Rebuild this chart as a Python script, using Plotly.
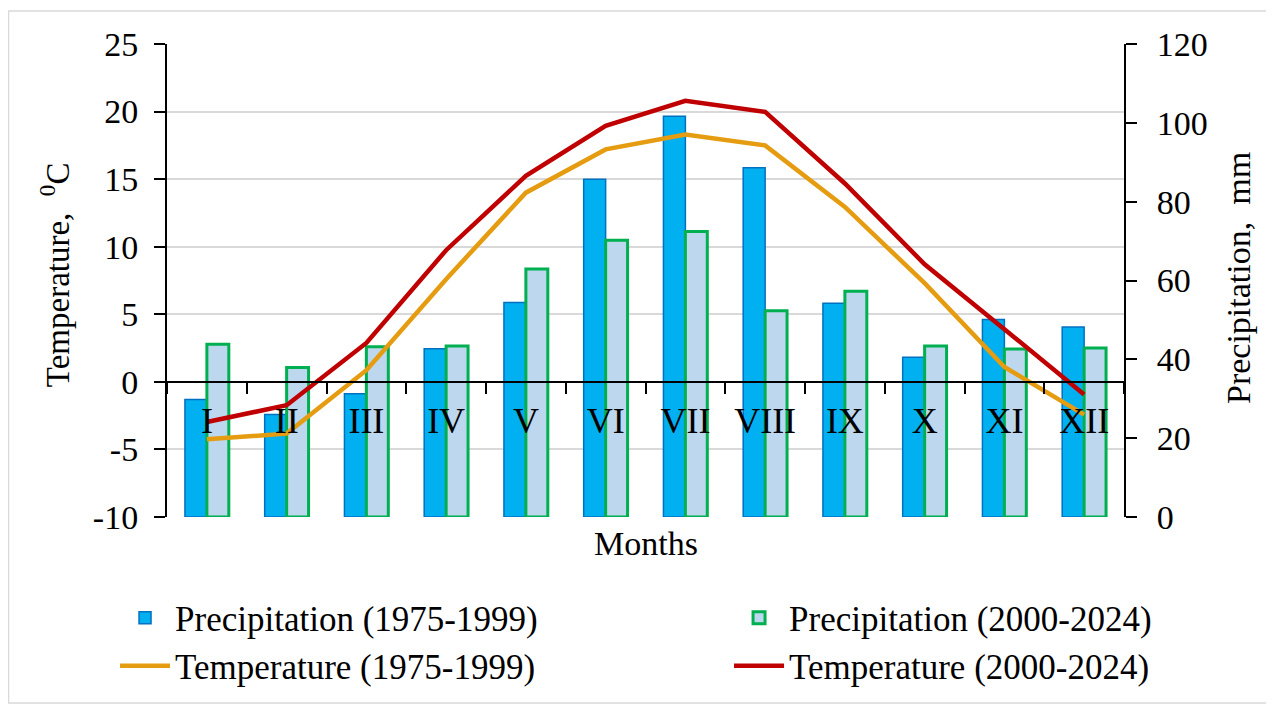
import plotly.graph_objects as go

months = ["I", "II", "III", "IV", "V", "VI", "VII", "VIII", "IX", "X", "XI", "XII"]
precip_1975_1999 = [29.8, 26.0, 31.3, 42.7, 54.4, 85.7, 101.7, 88.6, 54.2, 40.5, 50.1, 48.2]
precip_2000_2024 = [43.8, 37.9, 43.2, 43.4, 62.9, 70.2, 72.4, 52.3, 57.3, 43.4, 42.6, 42.9]
temp_1975_1999 = [-4.25, -3.83, 0.86, 7.6, 14.0, 17.2, 18.3, 17.5, 12.95, 7.3, 1.1, -2.42]
temp_2000_2024 = [-2.97, -1.73, 2.88, 9.74, 15.25, 18.95, 20.8, 19.98, 14.68, 8.7, 3.9, -0.94]

temp_ticks = [-10, -5, 0, 5, 10, 15, 20, 25]
temp_tick_text = ["-10", "-5", "0", "5", "10", "15", "20", "25"]
precip_ticks = [0, 20, 40, 60, 80, 100, 120]
precip_tick_text = ["0", "20", "40", "60", "80", "100", "120"]

temp_range = [-10, 25]
precip_range = [0, 120]
boundaries = [i - 0.5 for i in range(len(months) + 1)]

FONT = "Liberation Serif"
TICK = 34
LEG = 35

fig = go.Figure()
fig.add_trace(go.Bar(
    x=months, y=precip_1975_1999, name="Precipitation (1975-1999)",
    marker=dict(color="#00B0F0", line=dict(color="#0070C0", width=1.5)),
    xaxis="x", yaxis="y", legend="legend"))
fig.add_trace(go.Bar(
    x=months, y=precip_2000_2024, name="Precipitation (2000-2024)",
    marker=dict(color="#BDD7EE", line=dict(color="#00B050", width=3)),
    xaxis="x", yaxis="y", legend="legend2"))
fig.add_trace(go.Scatter(
    x=months, y=temp_1975_1999, name="Temperature (1975-1999)", mode="lines",
    line=dict(color="#E59C10", width=4.5), xaxis="x", yaxis="y2", legend="legend3"))
fig.add_trace(go.Scatter(
    x=months, y=temp_2000_2024, name="Temperature (2000-2024)", mode="lines",
    line=dict(color="#C00000", width=4.5), xaxis="x", yaxis="y2", legend="legend4"))

zero_pos = (0 - temp_range[0]) / (temp_range[1] - temp_range[0])


def leg(x, y):
    return dict(x=x, xanchor="left", xref="paper", y=y, yanchor="middle", yref="container",
                orientation="v", font=dict(family=FONT, size=LEG), itemwidth=50,
                bgcolor="rgba(0,0,0,0)", borderwidth=0)


fig.update_layout(
    width=1266, height=698,
    margin=dict(l=159, r=150, t=36, b=189, autoexpand=False),
    paper_bgcolor="white", plot_bgcolor="white",
    font=dict(family=FONT, size=TICK, color="black"),
    barmode="group", bargap=0.45, bargroupgap=0,
    showlegend=True,
    legend=leg(-0.0543, 0.1261),
    legend2=leg(0.5873, 0.1261),
    legend3=leg(-0.0543, 0.0573),
    legend4=leg(0.5873, 0.0573),
    xaxis=dict(type="category", categoryarray=months, categoryorder="array",
               range=[-0.5, 11.5], anchor="free", position=zero_pos,
               showline=True, linecolor="black", linewidth=2,
               ticks="outside", tickson="boundaries", ticklen=11, tickwidth=2,
               tickcolor="black", showgrid=False, zeroline=False,
               tickfont=dict(family=FONT, size=36), ticklabelstandoff=7),
    xaxis2=dict(overlaying="x", anchor="free", position=zero_pos,
                range=[-0.5, 11.5], tickmode="array", tickvals=boundaries,
                ticks="inside", ticklen=11, tickwidth=2, tickcolor="black",
                showticklabels=False, showline=False, showgrid=False, zeroline=False),
    yaxis=dict(range=precip_range, tickmode="array", tickvals=precip_ticks,
               ticktext=precip_tick_text, side="right", anchor="x",
               showline=True, linecolor="black", linewidth=2,
               ticks="outside", ticklen=11, tickwidth=2, tickcolor="black",
               showgrid=False, zeroline=False, ticklabelstandoff=13,
               tickfont=dict(family=FONT, size=TICK)),
    yaxis2=dict(range=temp_range, tickmode="array", tickvals=temp_ticks,
                ticktext=temp_tick_text, side="left", overlaying="y", anchor="x",
                showline=True, linecolor="black", linewidth=2,
                ticks="outside", ticklen=11, tickwidth=2, tickcolor="black",
                showgrid=True, gridcolor="#D9D9D9", gridwidth=1.5, zeroline=False,
                ticklabelstandoff=9, tickfont=dict(family=FONT, size=TICK)),
    yaxis3=dict(range=temp_range, tickmode="array", tickvals=temp_ticks,
                side="left", overlaying="y", anchor="x",
                ticks="inside", ticklen=11, tickwidth=2, tickcolor="black",
                showticklabels=False, showline=False, showgrid=False, zeroline=False),
    yaxis4=dict(range=precip_range, tickmode="array", tickvals=precip_ticks,
                side="right", overlaying="y", anchor="x",
                ticks="inside", ticklen=11, tickwidth=2, tickcolor="black",
                showticklabels=False, showline=False, showgrid=False, zeroline=False),
    annotations=[
        dict(text="Temperature,  <sup>0</sup>C", xref="paper", yref="paper",
             x=-0.1162, y=0.513, textangle=-90, showarrow=False,
             font=dict(family=FONT, size=33), xanchor="center", yanchor="middle"),
        dict(text="Precipitation,  mm", xref="paper", yref="paper",
             x=1.119, y=0.505, textangle=-90, showarrow=False,
             font=dict(family=FONT, size=34), xanchor="center", yanchor="middle"),
        dict(text="Months", xref="paper", yref="paper", x=0.5, y=-0.055,
             showarrow=False, font=dict(family=FONT, size=34),
             xanchor="center", yanchor="middle"),
    ],
    shapes=[dict(type="rect", xref="paper", yref="paper",
                 x0=-0.1656, x1=1.1536, y0=-0.3932, y1=1.0698,
                 line=dict(color="#D9D9D9", width=1.5), fillcolor="rgba(0,0,0,0)",
                 layer="below")],
)

fig.write_html("out.html")
